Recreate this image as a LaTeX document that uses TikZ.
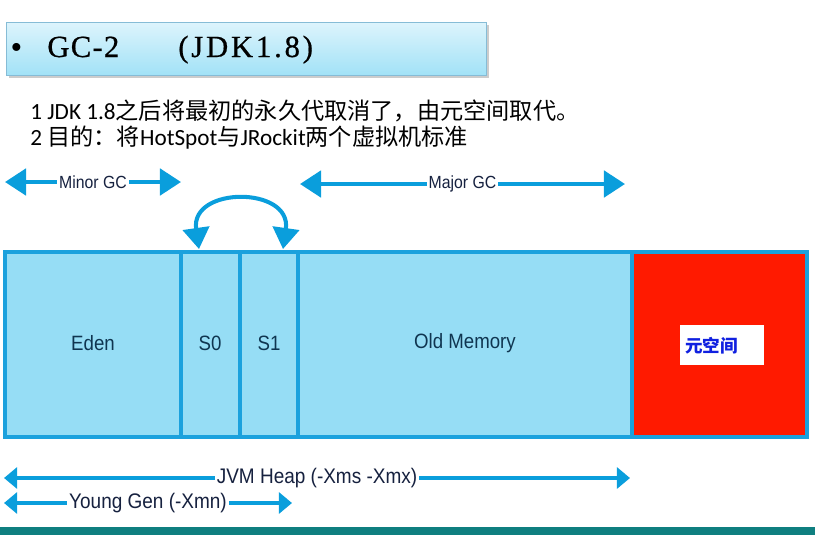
\documentclass[tikz,border=0pt]{standalone}
\usepackage{fontspec}
\setmainfont{Liberation Serif}
\newfontfamily\titlefont[LetterSpace=4, FakeBold=0.6]{Liberation Serif}
\newfontfamily\widetitle[LetterSpace=9, FakeBold=0.6]{Liberation Serif}
\newfontfamily\cjk{Noto Sans CJK SC}
\newfontfamily\lat{Carlito}
\newfontfamily\narrow[FakeStretch=0.9]{Liberation Sans}
\usetikzlibrary{arrows.meta}

\definecolor{heapfill}{HTML}{96DDF5}
\definecolor{heapline}{HTML}{1BA1DD}
\definecolor{gcblue}{HTML}{0A9EDC}
\definecolor{metared}{HTML}{FF1A00}
\definecolor{labeltext}{HTML}{0F3550}
\definecolor{spantext}{HTML}{16213F}
\definecolor{titletop}{HTML}{DDF4FC}
\definecolor{titlebot}{HTML}{A2E2F7}
\definecolor{titleline}{HTML}{86BCD6}
\definecolor{metatext}{HTML}{1020E0}
\definecolor{banner}{HTML}{0F7F80}

\tikzset{
  span/.style={draw=gcblue, line width=2.3pt,
    {Triangle[width=15pt,length=12pt]}-{Triangle[width=15pt,length=12pt]}},
  heapspan/.style={draw=gcblue, line width=1.9pt,
    {Triangle[width=12pt,length=7.5pt]}-{Triangle[width=12pt,length=7.5pt]}},
  spanlabel/.style={fill=white, inner sep=1pt, text=spantext},
  area/.style={draw=heapline, line width=2.3pt, fill=heapfill},
  arealabel/.style={text=labeltext, font=\narrow\fontsize{11.8}{14}\selectfont},
}

\begin{document}
\begin{tikzpicture}[x=0.02cm, y=-0.02cm]
    \useasboundingbox (0,0) rectangle (815,535);

    % Titel
    \fill[gray!40] (9,25) rectangle (489,78);
    \shade[top color=titletop, bottom color=titlebot, draw=titleline] (6,22) rectangle (486,75);
    \node[inner sep=0pt] (bullet) at (16.5,51) {\fontsize{19}{20}\selectfont\textbullet};
    \node[anchor=base west, inner sep=0pt] (gc) at (47,57)
        {\titlefont\fontsize{17.5}{20}\selectfont GC-2};
    \node[anchor=base west, inner sep=0pt] (jdk) at (178,57)
        {\widetitle\fontsize{17.5}{20}\selectfont (JDK1.8)};

    % Text
    \node[anchor=west, inner sep=0pt] (line1) at (30,111)
        {\fontsize{13.2}{15}\selectfont{\lat 1 JDK 1.8}{\cjk 之后将最初的永久代取消了，由元空间取代。}};
    \node[anchor=west, inner sep=0pt] (line2) at (30,138)
        {\fontsize{13.2}{15}\selectfont{\lat 2 }{\cjk 目的：将}{\lat HotSpot}{\cjk 与}{\lat JRockit}{\cjk 两个虚拟机标准}};

    % Bereiche
    \draw[area] (5,252) rectangle (181,437);
    \draw[area] (181,252) rectangle (240,437);
    \draw[area] (240,252) rectangle (298,437);
    \draw[area] (298,252) rectangle (632,437);
    \draw[draw=heapline, line width=2.3pt, fill=metared] (632,252) rectangle (807,437);

    \node[arealabel] (eden) at (93,343) {Eden};
    \node[arealabel] (s0) at (210,343) {S0};
    \node[arealabel] (s1) at (269,343) {S1};
    \node[arealabel] (old) at (465,343) {Old Memory};
    \node[fill=white, minimum width=1.7cm, minimum height=0.8cm] (meta) at (722,345) {};
    \node[anchor=west, inner sep=0pt, text=metatext,
          font=\cjk\bfseries\fontsize{10}{12}\selectfont] (metaname) at (685,346) {元空间};

    % GC-Pfeile
    \coordinate (minorL) at (5,182);
    \coordinate (minorR) at (181,182);
    \coordinate (majorL) at (300,184);
    \coordinate (majorR) at (625,184);
    \draw[span] (minorL) -- node[spanlabel, font=\narrow\fontsize{10}{12}\selectfont] (minor) {Minor GC} (minorR);
    \draw[span] (majorL) -- node[spanlabel, font=\narrow\fontsize{10}{12}\selectfont] (major) {Major GC} (majorR);

    \coordinate (s0top) at (199,249);
    \coordinate (s1top) at (283,249);
    \draw[span] (s0top) .. controls (190,186) and (292,186) .. (s1top);

    % Heap-Pfeile
    \coordinate (heapL) at (4,478);
    \coordinate (heapR) at (630,478);
    \coordinate (youngL) at (4,503);
    \coordinate (youngR) at (292,503);
    \draw[heapspan] (heapL) -- node[spanlabel, font=\narrow\fontsize{12}{14}\selectfont] (heap) {JVM Heap (-Xms -Xmx)} (heapR);
    \draw[heapspan] (youngL) -- node[spanlabel, font=\narrow\fontsize{12}{14}\selectfont] (young) {Young Gen (-Xmn)} (youngR);

    % Fussleiste
    \fill[banner] (0,527) rectangle (815,535);
\end{tikzpicture}
\end{document}
